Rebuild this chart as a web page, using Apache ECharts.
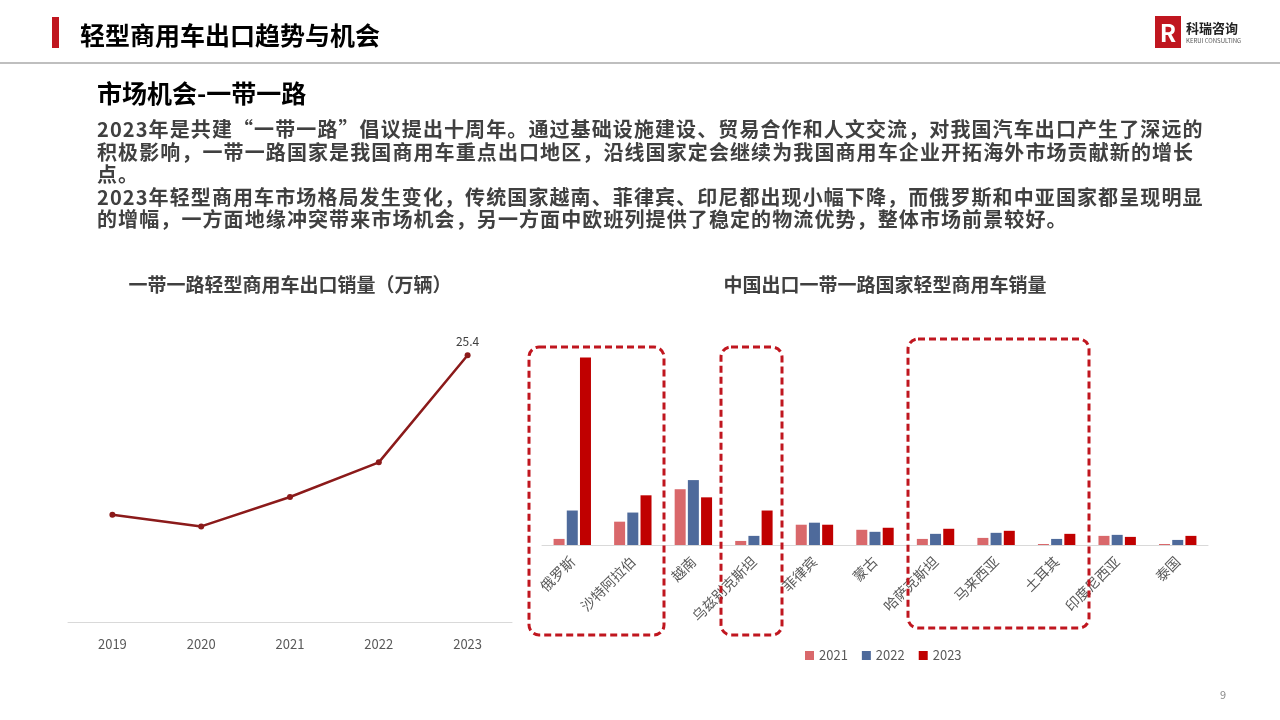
<!DOCTYPE html>
<html><head><meta charset="utf-8">
<script src="https://cdn.jsdelivr.net/npm/echarts@6/dist/echarts.min.js"></script>
<style>
body{margin:0;width:1280px;height:720px;overflow:hidden;background:#fff;font-family:"Noto Sans CJK SC",sans-serif;position:relative}
#c{position:absolute;left:0;top:0;width:1280px;height:720px}
.t{position:absolute;white-space:nowrap}
</style></head><body>
<div id="c"></div>
<div class="t" style="left:52px;top:17px;width:7px;height:31px;background:#c0161f"></div>
<div class="t" style="left:80px;top:16px;font-size:25px;font-weight:bold;color:#000">轻型商用车出口趋势与机会</div>
<div class="t" style="left:0;top:62px;width:1280px;height:2px;background:#bfbfbf"></div>
<div class="t" style="left:1155px;top:16px;width:26px;height:32px;background:#c0161f;color:#fff;font-weight:bold;font-size:24px;line-height:32px;text-align:center">R</div>
<div class="t" style="left:1186px;top:18px;font-size:13px;font-weight:bold;color:#222">科瑞咨询</div>
<div class="t" style="left:1186px;top:36px;font-size:6px;color:#555">KERUI CONSULTING</div>
<div class="t" style="left:97px;top:74px;font-size:25px;font-weight:bold;color:#000">市场机会-一带一路</div>
<div class="t" style="left:97px;top:118px;width:1112px;white-space:normal;font-size:20px;line-height:22.5px;font-weight:bold;color:#404040;letter-spacing:1.1px">2023年是共建“一带一路”倡议提出十周年。通过基础设施建设、贸易合作和人文交流，对我国汽车出口产生了深远的积极影响，一带一路国家是我国商用车重点出口地区，沿线国家定会继续为我国商用车企业开拓海外市场贡献新的增长点。<br>2023年轻型商用车市场格局发生变化，传统国家越南、菲律宾、印尼都出现小幅下降，而俄罗斯和中亚国家都呈现明显的增幅，一方面地缘冲突带来市场机会，另一方面中欧班列提供了稳定的物流优势，整体市场前景较好。</div>
<div class="t" style="left:1220px;top:686px;font-size:11px;color:#888">9</div>
<script>
const years = ['2019','2020','2021','2022','2023'];
const lineValues = [10.2, 9.1, 11.9, 15.2, 25.4];
const countries = ['俄罗斯','沙特阿拉伯','越南','乌兹别克斯坦','菲律宾','蒙古','哈萨克斯坦','马来西亚','土耳其','印度尼西亚','泰国'];
const s2021 = [0.30,1.15,2.75,0.20,1.00,0.75,0.30,0.35,0.05,0.45,0.05];
const s2022 = [1.70,1.60,3.20,0.45,1.10,0.65,0.55,0.60,0.30,0.50,0.25];
const s2023 = [9.25,2.45,2.35,1.70,1.00,0.85,0.80,0.70,0.55,0.40,0.45];
const seriesNames = ['2021','2022','2023'];
const chart = echarts.init(document.getElementById('c'));
const dash = (x,y,w,h)=>({type:'rect',shape:{x,y,width:w,height:h,r:10},style:{fill:'none',stroke:'#c0161f',lineWidth:3,lineDash:[7,4]},z:10});
chart.setOption({
  textStyle:{fontFamily:'"Noto Sans CJK SC",sans-serif'},
  title:[
    {text:'一带一路轻型商用车出口销量（万辆）',left:285,top:270,textAlign:'center',textStyle:{fontSize:19,fontWeight:'bold',color:'#404040'}},
    {text:'中国出口一带一路国家轻型商用车销量',left:880,top:270,textAlign:'center',textStyle:{fontSize:19,fontWeight:'bold',color:'#404040'}}
  ],
  legend:{data:seriesNames,left:800,top:644,itemWidth:9,itemHeight:9,itemGap:14,textStyle:{fontSize:13,color:'#595959'},icon:'rect'},
  grid:[
    {left:68,width:444,top:330,bottom:98},
    {left:542,width:666,top:330,bottom:175}
  ],
  xAxis:[
    {gridIndex:0,type:'category',data:years,axisLine:{lineStyle:{color:'#d9d9d9'}},axisTick:{show:false},axisLabel:{color:'#595959',fontSize:13,margin:16}},
    {gridIndex:1,type:'category',data:countries,axisLine:{lineStyle:{color:'#d9d9d9'}},axisTick:{show:false},axisLabel:{color:'#595959',fontSize:14,rotate:45,interval:0,margin:14}}
  ],
  yAxis:[
    {gridIndex:0,type:'value',min:0,max:27.8,show:false},
    {gridIndex:1,type:'value',min:0,max:10.6,show:false}
  ],
  series:[
    {type:'line',xAxisIndex:0,yAxisIndex:0,data:lineValues,symbol:'circle',symbolSize:6,lineStyle:{color:'#8b1a1a',width:2.5},itemStyle:{color:'#8b1a1a'},
     label:{show:true,position:'top',color:'#404040',fontSize:12,formatter:p=>p.dataIndex===4?p.value:''}},
    {name:'2021',type:'bar',xAxisIndex:1,yAxisIndex:1,data:s2021,itemStyle:{color:'#d9686b'},barWidth:11,barGap:'20%'},
    {name:'2022',type:'bar',xAxisIndex:1,yAxisIndex:1,data:s2022,itemStyle:{color:'#4e6a9b'},barWidth:11,barGap:'20%'},
    {name:'2023',type:'bar',xAxisIndex:1,yAxisIndex:1,data:s2023,itemStyle:{color:'#c00000'},barWidth:11,barGap:'20%'}
  ],
  graphic:[dash(529,347,135,288),dash(721,347,61,288),dash(908,339,181,289)]
});
</script></body></html>
